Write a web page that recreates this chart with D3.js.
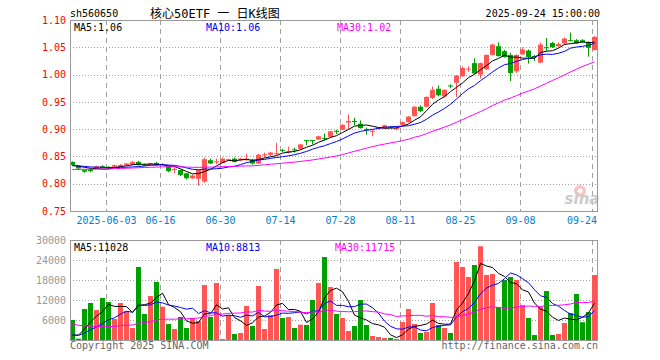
<!DOCTYPE html>
<html>
<head>
<meta charset="utf-8">
<script src="https://cdn.jsdelivr.net/npm/d3@7"></script>
<style>
  body { margin: 0; background: #fff; }
  svg text { font-family: "DejaVu Sans Mono", "Noto Sans CJK SC", monospace; }
</style>
</head>
<body>
<svg id="chart"></svg>
<script>
const width = 660;
const height = 360;

// trading days shown
const dates = [
  "2025-05-23","2025-05-26","2025-05-27","2025-05-28","2025-05-29","2025-05-30",
  "2025-06-03","2025-06-04","2025-06-05","2025-06-06","2025-06-09","2025-06-10","2025-06-11","2025-06-12","2025-06-13",
  "2025-06-16","2025-06-17","2025-06-18","2025-06-19","2025-06-20","2025-06-23","2025-06-24","2025-06-25","2025-06-26","2025-06-27",
  "2025-06-30","2025-07-01","2025-07-02","2025-07-03","2025-07-04","2025-07-07","2025-07-08","2025-07-09","2025-07-10","2025-07-11",
  "2025-07-14","2025-07-15","2025-07-16","2025-07-17","2025-07-18","2025-07-21","2025-07-22","2025-07-23","2025-07-24","2025-07-25",
  "2025-07-28","2025-07-29","2025-07-30","2025-07-31","2025-08-01","2025-08-04","2025-08-05","2025-08-06","2025-08-07","2025-08-08",
  "2025-08-11","2025-08-12","2025-08-13","2025-08-14","2025-08-15","2025-08-18","2025-08-19","2025-08-20","2025-08-21","2025-08-22",
  "2025-08-25","2025-08-26","2025-08-27","2025-08-28","2025-08-29","2025-09-01","2025-09-02","2025-09-03","2025-09-04","2025-09-05",
  "2025-09-08","2025-09-09","2025-09-10","2025-09-11","2025-09-12","2025-09-15","2025-09-16","2025-09-17","2025-09-18","2025-09-19",
  "2025-09-22","2025-09-23","2025-09-24"
];

const open = [
  .840,.832,.825,.826,.829,.832,.831,.831,.832,.834,.835,.840,.835,.834,.838,.835,.832,.826,.825,.819,
  .810,.809,.804,.843,.839,.838,.843,.846,.843,.844,.844,.837,.852,.853,.855,.862,.858,.863,.864,.880,
  .880,.881,.884,.886,.897,.899,.912,.915,.910,.900,.895,.902,.902,.904,.900,.908,.913,.924,.941,.941,
  .957,.974,.960,.980,.985,.997,1.010,1.021,1.000,1.010,1.036,1.052,1.043,1.036,1.006,1.037,1.044,1.034,1.022,1.050,
  1.058,1.052,1.057,1.063,1.063,1.063,1.059,1.045
];
const high = [
  .841,.834,.826,.828,.833,.834,.832,.835,.836,.838,.842,.842,.837,.838,.840,.838,.833,.829,.826,.820,
  .817,.826,.848,.846,.846,.848,.846,.848,.847,.855,.846,.855,.857,.858,.875,.864,.868,.866,.873,.880,
  .880,.888,.892,.897,.899,.909,.927,.921,.916,.903,.899,.904,.908,.906,.904,.914,.924,.942,.944,.960,
  .978,.980,.973,.982,.999,1.015,1.015,1.030,1.022,1.037,1.056,1.059,1.045,1.040,1.037,1.050,1.046,1.036,1.059,1.067,
  1.060,1.059,1.068,1.077,1.065,1.065,1.061,1.071
];
const low = [
  .832,.825,.820,.821,.828,.828,.827,.830,.831,.833,.834,.833,.832,.833,.833,.834,.821,.819,.814,.808,
  .809,.796,.802,.836,.836,.837,.842,.839,.842,.842,.835,.836,.848,.851,.852,.858,.856,.857,.863,.871,
  .872,.880,.879,.885,.891,.898,.900,.907,.901,.890,.887,.900,.901,.902,.898,.906,.912,.923,.931,.940,
  .955,.960,.958,.975,.959,.996,1.005,1.001,.993,1.008,1.035,1.033,1.031,.988,1.003,1.036,1.020,1.025,1.021,1.043,
  1.049,1.050,1.055,1.061,1.056,1.058,1.033,1.044
];
const close = [
  .834,.828,.822,.823,.832,.829,.829,.834,.834,.837,.840,.834,.833,.837,.834,.836,.823,.827,.816,.810,
  .815,.825,.845,.837,.841,.846,.845,.840,.846,.846,.837,.853,.854,.857,.856,.861,.860,.862,.872,.879,
  .879,.887,.883,.896,.895,.908,.915,.914,.902,.899,.897,.903,.907,.903,.902,.913,.923,.941,.933,.959,
  .972,.962,.972,.979,.998,1.012,1.011,1.002,1.021,1.036,1.055,1.034,1.032,1.003,1.036,1.046,1.032,1.032,1.055,1.049,
  1.050,1.056,1.066,1.062,1.057,1.059,1.049,1.069
];
const volume = [
  6000,400,9300,11100,9000,12600,11400,6300,11100,8700,3600,21900,7800,13200,17400,10000,4800,3300,6900,3600,
  6600,5700,16500,6900,17100,300,7500,1800,2100,10200,4200,16200,3300,7500,21300,6600,6900,3600,4600,4500,
  12000,17100,24900,15900,7800,6600,2700,4200,12000,4500,1200,900,600,600,300,5400,9300,4800,2100,2400,
  11100,4500,3600,2100,23400,21900,18900,22500,28120,19500,19800,9900,18000,18900,18000,10500,6600,1500,9900,14690,
  1500,1800,5100,8100,13800,5340,8400,19500
];

// closes and volumes of the 29 sessions before the window (only feed the moving averages)
const preClose = [
  .818,.821,.824,.820,.826,.823,.819,.822,.825,.827,.821,.818,.824,.826,.822,.820,.823,.825,.822,.824,
  .830,.835,.832,.836,.831,.834,.833,.832,.834
];
const preVolume = [
  12000,15500,11800,14200,12300,12000,4200,3100,5200,2800,3600,4500,3900,2600,3300,4100,3700,2900,3800,3500,
  1800,1400,1600,1300,1400,500,300,400,300
];

const priceTicks = [1.10, 1.05, 1.00, 0.95, 0.90, 0.85, 0.80, 0.75];
const volumeTicks = [30000, 24000, 18000, 12000, 6000];
const tickDates = ["2025-06-03","2025-06-16","2025-06-30","2025-07-14","2025-07-28","2025-08-11","2025-08-25","2025-09-08","2025-09-24"];
const tickLabels = ["2025-06-03","06-16","06-30","07-14","07-28","08-11","08-25","09-08","09-24"];

const maPeriods = [5, 10, 30];
const maColors = ["#000000", "#0000ff", "#ff00ff"];
const upColor = "#ff5555";
const downColor = "#00a000";
const gridColor = "#a0a0a0";

function movingAvg(values, pre, n) {
  const all = pre.concat(values);
  return values.map((v, i) => d3.mean(all.slice(i + pre.length - n + 1, i + pre.length + 1)));
}

const svg = d3.select("#chart")
  .attr("width", width)
  .attr("height", height);

const left = 70, right = 598;
const pTop = 20, pBottom = 211;
const vTop = 240, vBottom = 340;

const x = d3.scaleBand().domain(dates).range([left, right]);
const bw = x.bandwidth() - 1;
const yP = d3.scaleLinear().domain([0.75, 1.10]).range([pBottom, pTop]);
const yV = d3.scaleLinear().domain([0, 30000]).range([vBottom, vTop]);

const bars = dates.map((d, i) => ({
  date: d, o: open[i], h: high[i], l: low[i], c: close[i], v: volume[i],
  up: close[i] >= open[i]
}));

// header
svg.append("text").attr("x", 70).attr("y", 17).attr("font-size", 10).attr("fill", "#000").text("sh560650");
svg.append("text").attr("x", 150).attr("y", 18).attr("font-size", 12).attr("fill", "#000").text("核心50ETF 一 日K线图");
svg.append("text").attr("x", 600).attr("y", 17).attr("font-size", 10).attr("text-anchor", "end").attr("fill", "#000")
  .text("2025-09-24 15:00:00");

// grids
function hGrid(scale, ticks) {
  svg.append("g").selectAll("line").data(ticks).enter().append("line")
    .attr("x1", left).attr("x2", right)
    .attr("y1", d => Math.round(scale(d)) + 0.5).attr("y2", d => Math.round(scale(d)) + 0.5)
    .attr("stroke", gridColor).attr("stroke-dasharray", "1,2");
}
hGrid(yP, priceTicks.slice(1, -1));
hGrid(yV, volumeTicks.slice(1));

[[pTop, pBottom], [vTop, vBottom]].forEach(([t, b]) => {
  svg.append("g").selectAll("line").data(tickDates).enter().append("line")
    .attr("x1", d => x(d) + 0.5).attr("x2", d => x(d) + 0.5)
    .attr("y1", t).attr("y2", b)
    .attr("stroke", gridColor).attr("stroke-dasharray", "5,4");
});

// watermark
svg.append("circle").attr("cx", 580).attr("cy", 191).attr("r", 6).attr("fill", "#f7c4c4");
svg.append("circle").attr("cx", 580).attr("cy", 191).attr("r", 2.5).attr("fill", "#fff");
svg.append("text").attr("x", 582).attr("y", 204).attr("text-anchor", "middle")
  .attr("font-size", 15).attr("font-style", "italic").attr("font-weight", "bold")
  .attr("fill", "#cccccc").style("font-family", "'DejaVu Sans', sans-serif").text("sina");

// candles
const candle = svg.append("g").selectAll("g").data(bars).enter().append("g");
candle.append("line")
  .attr("x1", d => x(d.date) + 2.5).attr("x2", d => x(d.date) + 2.5)
  .attr("y1", d => yP(d.h)).attr("y2", d => yP(d.l))
  .attr("stroke", d => d.up ? upColor : downColor);
candle.append("rect")
  .attr("x", d => x(d.date))
  .attr("width", bw)
  .attr("y", d => yP(Math.max(d.o, d.c)))
  .attr("height", d => Math.max(1, Math.abs(yP(d.o) - yP(d.c))))
  .attr("fill", d => d.up ? upColor : downColor);

// volume bars
svg.append("g").selectAll("rect").data(bars).enter().append("rect")
  .attr("x", d => x(d.date))
  .attr("width", bw)
  .attr("y", d => yV(d.v))
  .attr("height", d => vBottom - yV(d.v))
  .attr("fill", d => d.up ? upColor : downColor);

// moving averages
const priceMA = maPeriods.map(n => movingAvg(close, preClose, n));
const volMA = maPeriods.map(n => movingAvg(volume, preVolume, n));

function drawLines(series, scale) {
  series.forEach((vals, k) => {
    const line = d3.line()
      .x((v, i) => x(dates[i]) + 2.5)
      .y(v => scale(v));
    svg.append("path").datum(vals)
      .attr("d", line)
      .attr("fill", "none")
      .attr("stroke", maColors[k])
      .attr("stroke-width", 1);
  });
}
drawLines(priceMA, yP);
drawLines(volMA, yV);

// frames
svg.append("rect").attr("x", left + 0.5).attr("y", pTop + 0.5)
  .attr("width", right - left - 1).attr("height", pBottom - pTop)
  .attr("fill", "none").attr("stroke", "#999");
svg.append("rect").attr("x", left + 0.5).attr("y", vTop + 0.5)
  .attr("width", right - left - 1).attr("height", vBottom - vTop)
  .attr("fill", "none").attr("stroke", "#999");

// MA legends
const legendX = [74, 206, 337];
maPeriods.forEach((n, k) => {
  svg.append("text").attr("x", legendX[k]).attr("y", 31).attr("font-size", 10).attr("fill", maColors[k])
    .text(`MA${n}:${priceMA[k][priceMA[k].length - 1].toFixed(2)}`);
  svg.append("text").attr("x", legendX[k] - (k === 2 ? 2 : 0)).attr("y", 251).attr("font-size", 10).attr("fill", maColors[k])
    .text(`MA${n}:${Math.round(volMA[k][volMA[k].length - 1])}`);
});

// axes
const pAxis = svg.append("g").attr("transform", `translate(${left},0)`)
  .call(d3.axisLeft(yP).tickValues(priceTicks).tickFormat(d3.format(".2f")).tickSize(0).tickPadding(4));
pAxis.select(".domain").remove();
pAxis.selectAll("text").attr("fill", "#ff0000").attr("font-size", 10)
  .style("font-family", "'DejaVu Sans Mono', monospace");

const vAxis = svg.append("g").attr("transform", `translate(${left},0)`)
  .call(d3.axisLeft(yV).tickValues(volumeTicks).tickFormat(d3.format("d")).tickSize(0).tickPadding(4));
vAxis.select(".domain").remove();
vAxis.selectAll("text").attr("fill", "#999999").attr("font-size", 10)
  .style("font-family", "'DejaVu Sans Mono', monospace");

svg.append("g").selectAll("text").data(tickDates).enter().append("text")
  .attr("x", (d, i) => i === tickDates.length - 1 ? right - 1 : x(d) + 0.5)
  .attr("y", 224)
  .attr("text-anchor", (d, i) => i === tickDates.length - 1 ? "end" : "middle")
  .attr("font-size", 10)
  .attr("fill", "#0080d0")
  .text((d, i) => tickLabels[i]);

// footer
svg.append("text").attr("x", 70).attr("y", 349).attr("font-size", 10).attr("fill", "#666").text("Copyright 2025 SINA.COM");
svg.append("text").attr("x", 598).attr("y", 349).attr("font-size", 10).attr("text-anchor", "end").attr("fill", "#666")
  .text("http://finance.sina.com.cn");
</script>
</body>
</html>
